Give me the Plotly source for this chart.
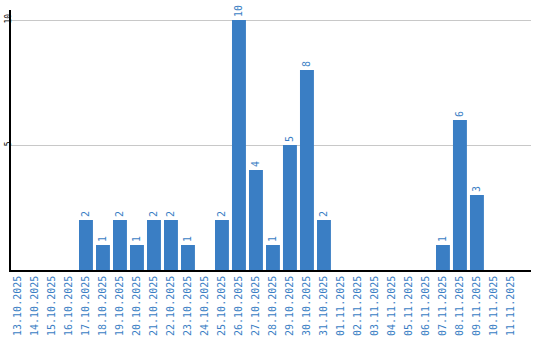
import plotly.graph_objects as go

dates = ["13.10.2025","14.10.2025","15.10.2025","16.10.2025","17.10.2025","18.10.2025",
         "19.10.2025","20.10.2025","21.10.2025","22.10.2025","23.10.2025","24.10.2025",
         "25.10.2025","26.10.2025","27.10.2025","28.10.2025","29.10.2025","30.10.2025",
         "31.10.2025","01.11.2025","02.11.2025","03.11.2025","04.11.2025","05.11.2025",
         "06.11.2025","07.11.2025","08.11.2025","09.11.2025","10.11.2025","11.11.2025"]
counts = [0,0,0,0,2,1,2,1,2,2,1,0,2,10,4,1,5,8,2,0,0,0,0,0,0,1,6,3,0,0]
labels = [str(v) if v else "" for v in counts]

BLUE = "#3a7ec4"
FONT = "DejaVu Sans Mono"

fig = go.Figure(go.Bar(
    x=list(range(len(dates))), y=counts, text=labels,
    textposition="outside", textangle=-90,
    textfont=dict(family=FONT, size=10, color=BLUE),
    marker=dict(color=BLUE, line=dict(width=0)),
    cliponaxis=False, width=0.82,
))
fig.update_layout(
    width=540, height=340, margin=dict(l=11, r=9, t=10, b=70),
    plot_bgcolor="white", paper_bgcolor="white", showlegend=False,
    font=dict(family=FONT),
    xaxis=dict(tickmode="array", tickvals=list(range(len(dates))), ticktext=dates,
               tickangle=-90, tickfont=dict(family=FONT, size=10, color=BLUE),
               range=[-0.41, 30.18], showline=True, linecolor="black", linewidth=1.5,
               showgrid=False, ticks="", zeroline=False, automargin=False),
    yaxis=dict(range=[0, 10.4], tickvals=[5, 10], tickangle=-90,
               tickfont=dict(family=FONT, size=8, color="black"),
               showline=True, linecolor="black", linewidth=1.5,
               gridcolor="#c8c8c8", gridwidth=1, zeroline=False, ticks="", ticklen=0,
               ticklabelstandoff=-5, automargin=False),
)
fig.write_html("out.html")
